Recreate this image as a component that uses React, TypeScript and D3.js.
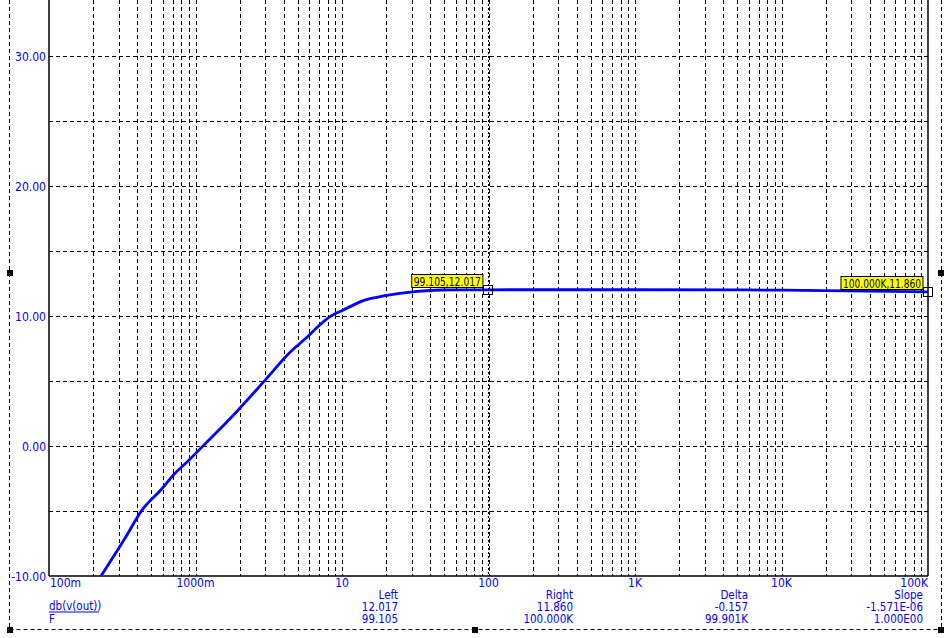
import React from "react";
import * as d3 from "d3";

const freqs = [0.2265, 0.33, 0.429, 0.588, 0.706, 0.893, 1.019, 1.256, 1.72, 2.98, 4.42, 5.59, 7.08, 8.28, 9.95, 11.34, 13.98, 17.26, 21.26, 28.36, 48.9, 99.105, 1000, 10000, 100000];
const dbValues = [-10, -7.1, -4.97, -3.31, -2.23, -1.13, -0.49, 0.54, 2.1, 5.05, 7.21, 8.23, 9.33, 9.95, 10.41, 10.72, 11.18, 11.44, 11.62, 11.82, 12.0, 12.017, 12.02, 11.99, 11.86];

const yTicks = [-10, 0, 10, 20, 30];
const yGrid = [-5, 0, 5, 10, 15, 20, 25, 30, 35];
const xTickValues = [0.1, 1, 10, 100, 1000, 10000, 100000];
const xTickLabels = ["100m", "1000m", "10", "100", "1K", "10K", "100K"];

const cursorHeaders = ["Left", "Right", "Delta", "Slope"];
const cursorY = ["12.017", "11.860", "-0.157", "-1.571E-06"];
const cursorX = ["99.105", "100.000K", "99.901K", "1.000E00"];
const traceName = "db(v(out))";
const xVarName = "F";

const markerFreqs = [99.105, 100000];
const markerValues = [12.017, 11.86];
const markerLabels = ["99.105,12.017", "100.000K,11.860"];

const BLUE = "#0000ff";
const FONT = "'Liberation Sans Narrow', 'DejaVu Sans Condensed', 'Liberation Sans', Arial, sans-serif";

export default function App() {
  const W = 947, H = 638;
  const L = 49, R = 928, B = 576;
  const x = d3.scaleLog().domain([0.1, 1e5]).range([L, R]);
  const y = d3.scaleLinear().domain([-10, 40]).range([B, -74]);

  const vGrid: number[] = [];
  for (let d = 0.1; d < 1e5 * 0.99; d *= 10) {
    for (let k = 1; k <= 9; k++) {
      if (k === 1 && d < 0.5) continue;
      vGrid.push(d * k);
    }
  }

  const line = d3
    .line<number>()
    .x((_, i) => x(freqs[i]))
    .y((d) => y(d))
    .curve(d3.curveMonotoneX);

  const colRight = [398, 573, 748, 923];

  return (
    <svg
      width={W}
      height={H}
      style={{ position: "absolute", left: 0, top: 0, background: "#fff" }}
      fontFamily={FONT}
    >
      <rect x={0} y={0} width={W} height={H} fill="#fff" />
      <defs>
        <clipPath id="plotClip">
          <rect x={L} y={-100} width={R - L} height={B + 100} />
        </clipPath>
      </defs>
      {/* outer dashed border */}
      <g stroke="#000" strokeWidth={1} strokeDasharray="4,3" fill="none">
        <line x1={9.5} y1={0} x2={9.5} y2={629.5} />
        <line x1={941.5} y1={0} x2={941.5} y2={629.5} />
        <line x1={9.5} y1={629.5} x2={941.5} y2={629.5} />
      </g>
      {[
        [10, 273],
        [10, 630],
        [475, 630],
        [941, 630],
        [941, 273],
      ].map(([cx, cy], i) => (
        <rect key={i} x={cx - 3} y={cy - 3} width={6} height={6} fill="#000" />
      ))}

      {/* grid */}
      <g stroke="#000" strokeWidth={1} strokeDasharray="4,3">
        {vGrid.map((v, i) => {
          const px = Math.round(x(v)) + 0.5;
          return <line key={"v" + i} x1={px} x2={px} y1={0} y2={B} />;
        })}
        {yGrid.map((v, i) => {
          const py = Math.round(y(v)) + 0.5;
          return <line key={"h" + i} x1={L} x2={R} y1={py} y2={py} />;
        })}
      </g>
      {/* cursor line */}
      <line
        x1={Math.round(x(markerFreqs[0])) + 0.5}
        x2={Math.round(x(markerFreqs[0])) + 0.5}
        y1={0}
        y2={B}
        stroke="#000"
        strokeDasharray="2,2"
      />

      {/* frame */}
      <g stroke="#000" strokeWidth={1.5} fill="none">
        <line x1={L} x2={L} y1={0} y2={B} />
        <line x1={R} x2={R} y1={0} y2={B} />
        <line x1={L} x2={R} y1={B} y2={B} />
      </g>

      {/* curve */}
      <path
        d={line(dbValues) || ""}
        fill="none"
        stroke={BLUE}
        strokeWidth={2.8}
        clipPath="url(#plotClip)"
      />

      {/* markers */}
      {markerFreqs.map((f, i) => {
        const px = x(f);
        const py = y(markerValues[i]);
        const label = markerLabels[i];
        const tw = label.length * 5.4 + 1;
        const right = Math.min(px - 5, R - 2);
        const bx = right - tw;
        const by = Math.round(py) - 15.5;
        return (
          <g key={i}>
            <rect x={Math.round(px) - 4.5} y={Math.round(py) - 4.5} width={9} height={9} fill="none" stroke="#000" />
            <rect x={bx} y={by} width={tw} height={13} fill="#ffff00" stroke="#000" />
            <text
              x={bx + 2}
              y={by + 11}
              fontSize={12}
              textLength={tw - 4}
              lengthAdjust="spacingAndGlyphs"
              fill="#000"
            >
              {label}
            </text>
          </g>
        );
      })}

      {/* y labels */}
      {yTicks.map((v, i) => (
        <text key={i} x={46} y={y(v) + 4.5} fontSize={12} textAnchor="end" fill={BLUE}>
          {v.toFixed(2)}
        </text>
      ))}
      {/* x labels */}
      {xTickValues.map((v, i) => (
        <text
          key={i}
          x={i === 0 ? L + 1 : x(v)}
          y={587}
          fontSize={12}
          textAnchor={i === 0 ? "start" : i === xTickValues.length - 1 ? "end" : "middle"}
          fill={BLUE}
        >
          {xTickLabels[i]}
        </text>
      ))}

      {/* trace names */}
      <text x={49} y={610} fontSize={11.5} fill={BLUE}>
        {traceName}
      </text>
      <line x1={49} x2={99} y1={612} y2={612} stroke={BLUE} />
      <text x={49} y={623} fontSize={11.5} fill={BLUE}>
        {xVarName}
      </text>

      {/* cursor table */}
      {cursorHeaders.map((h, i) => (
        <g key={i} fill={BLUE} fontSize={11.5} textAnchor="end">
          <text x={colRight[i]} y={599}>{h}</text>
          <text x={colRight[i]} y={611}>{cursorY[i]}</text>
          <text x={colRight[i]} y={623}>{cursorX[i]}</text>
        </g>
      ))}
    </svg>
  );
}
